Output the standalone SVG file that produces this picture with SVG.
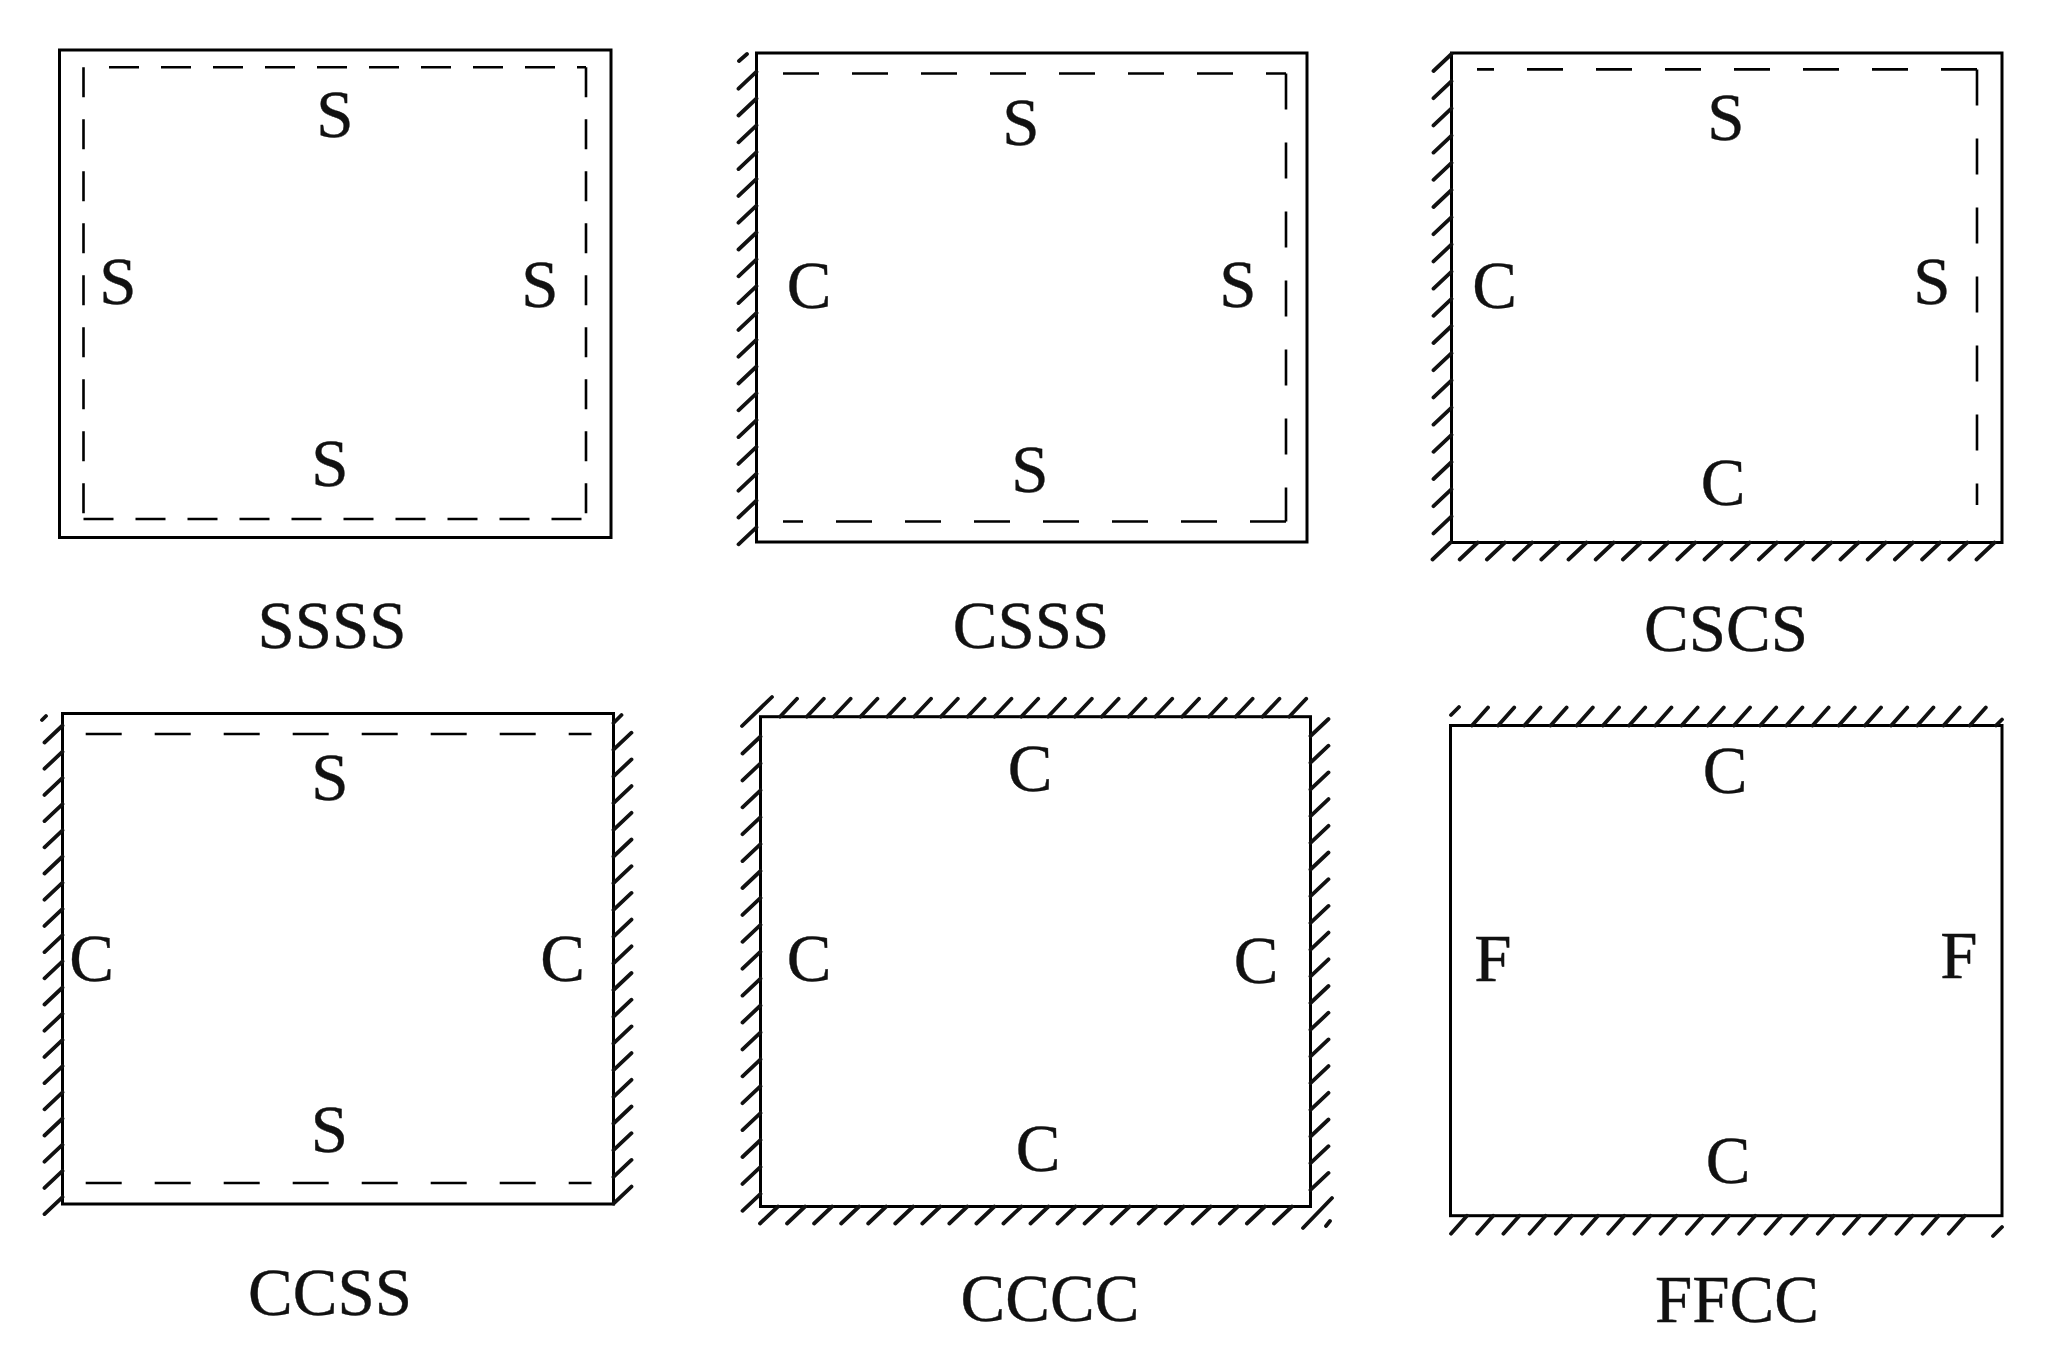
<svg xmlns="http://www.w3.org/2000/svg" width="2050" height="1345" viewBox="0 0 2050 1345">
<style>
.plate{fill:none;stroke:#000;stroke-width:3}
.d1{fill:none;stroke:#000;stroke-width:2.6;stroke-dasharray:30 22}
.d2{fill:none;stroke:#000;stroke-width:2.6;stroke-dasharray:36 33}
.hatch{fill:none;stroke:#111;stroke-width:3.8;stroke-linecap:round}
text{font-family:"Liberation Serif","Times New Roman",serif;font-size:67px;fill:#111;stroke:#111;stroke-width:0.4;text-anchor:middle}
</style>
<rect width="2050" height="1345" fill="#fff"/>

<g id="ssss">
<rect class="plate" x="59.5" y="50" width="551.5" height="487.5"/>
<path class="d1" d="M83.5 67.3V519M109 67.3H586M586 67.3V519M83.5 519H586"/>
<text x="335" y="137">S</text>
<text x="118" y="304">S</text>
<text x="540" y="307">S</text>
<text x="330" y="486">S</text>
<text x="332" y="648">SSSS</text>
</g>

<g id="csss">
<rect class="plate" x="756.5" y="53" width="550.5" height="489"/>
<path class="d2" d="M783 73.5H1286M1286 73.5V521.5M1286 521.5H783"/>
<path class="hatch" d="M747 54l-8 7M756.5 71.7l-18 17m18 9.8l-18 17m18 9.8l-18 17m18 9.8l-18 17m18 9.8l-18 17m18 9.8l-18 17m18 9.8l-18 17m18 9.8l-18 17m18 9.8l-18 17m18 9.8l-18 17m18 9.8l-18 17m18 9.8l-18 17m18 9.8l-18 17m18 9.8l-18 17m18 9.8l-18 17m18 9.8l-18 17m18 9.8l-18 17m18 9.8l-18 17"/>
<text x="1021" y="145">S</text>
<text x="809" y="308">C</text>
<text x="1238" y="307">S</text>
<text x="1030" y="492">S</text>
<text x="1031" y="648">CSSS</text>
</g>

<g id="cscs">
<rect class="plate" x="1451.5" y="53" width="550.5" height="489.5"/>
<path class="d2" d="M1977 69.4H1477M1977 69.4V505"/>
<path class="hatch" d="M1451.5 54l-18 17m18 10.2l-18 17m18 10.2l-18 17m18 10.2l-18 17m18 10.2l-18 17m18 10.2l-18 17m18 10.2l-18 17m18 10.2l-18 17m18 10.2l-18 17m18 10.2l-18 17m18 10.2l-18 17m18 10.2l-18 17m18 10.2l-18 17m18 10.2l-18 17m18 10.2l-18 17m18 10.2l-18 17m18 10.2l-18 17m18 10.2l-18 17"/>
<path class="hatch" d="M1450.5 542.5l-18 17m45.2 -17l-18 17m45.2 -17l-18 17m45.2 -17l-18 17m45.2 -17l-18 17m45.2 -17l-18 17m45.2 -17l-18 17m45.2 -17l-18 17m45.2 -17l-18 17m45.2 -17l-18 17m45.2 -17l-18 17m45.2 -17l-18 17m45.2 -17l-18 17m45.2 -17l-18 17m45.2 -17l-18 17m45.2 -17l-18 17m45.2 -17l-18 17m45.2 -17l-18 17m45.2 -17l-18 17m45.2 -17l-18 17m45.2 -17l-18 17"/>
<text x="1726" y="140">S</text>
<text x="1494.5" y="308">C</text>
<text x="1932" y="304">S</text>
<text x="1723" y="505">C</text>
<text x="1726" y="651">CSCS</text>
</g>

<g id="ccss">
<rect class="plate" x="62.5" y="713.5" width="551" height="490.5"/>
<path class="d2" d="M85.7 734H591.5M85.7 1183H591.5"/>
<path class="hatch" d="M46 716l-4 4M62.5 725.5l-18 17m18 9.2l-18 17m18 9.2l-18 17m18 9.2l-18 17m18 9.2l-18 17m18 9.2l-18 17m18 9.2l-18 17m18 9.2l-18 17m18 9.2l-18 17m18 9.2l-18 17m18 9.2l-18 17m18 9.2l-18 17m18 9.2l-18 17m18 9.2l-18 17m18 9.2l-18 17m18 9.2l-18 17m18 9.2l-18 17m18 9.2l-18 17m18 9.2l-18 17"/>
<path class="hatch" d="M613.5 723l8 -8M613.5 749.7l18 -17m-18 43.7l18 -17m-18 43.7l18 -17m-18 43.7l18 -17m-18 43.7l18 -17m-18 43.7l18 -17m-18 43.7l18 -17m-18 43.7l18 -17m-18 43.7l18 -17m-18 43.7l18 -17m-18 43.7l18 -17m-18 43.7l18 -17m-18 43.7l18 -17m-18 43.7l18 -17m-18 43.7l18 -17m-18 43.7l18 -17m-18 43.7l18 -17m-18 43.7l18 -17"/>
<text x="330" y="800">S</text>
<text x="91.5" y="981">C</text>
<text x="562.5" y="981">C</text>
<text x="329.5" y="1152">S</text>
<text x="330" y="1315">CCSS</text>
</g>

<g id="cccc">
<rect class="plate" x="760.5" y="716.7" width="550" height="489.8"/>
<path class="hatch" d="M742 726L772 697M780 716.7l17 -18m9.8 18l17 -18m9.8 18l17 -18m9.8 18l17 -18m9.8 18l17 -18m9.8 18l17 -18m9.8 18l17 -18m9.8 18l17 -18m9.8 18l17 -18m9.8 18l17 -18m9.8 18l17 -18m9.8 18l17 -18m9.8 18l17 -18m9.8 18l17 -18m9.8 18l17 -18m9.8 18l17 -18m9.8 18l17 -18m9.8 18l17 -18m9.8 18l17 -18m9.8 18l17 -18"/>
<path class="hatch" d="M760.5 736.5l-18 17m18 9.9l-18 17m18 9.9l-18 17m18 9.9l-18 17m18 9.9l-18 17m18 9.9l-18 17m18 9.9l-18 17m18 9.9l-18 17m18 9.9l-18 17m18 9.9l-18 17m18 9.9l-18 17m18 9.9l-18 17m18 9.9l-18 17m18 9.9l-18 17m18 9.9l-18 17m18 9.9l-18 17m18 9.9l-18 17m18 9.9l-18 17"/>
<path class="hatch" d="M1310.5 736l18 -17m-18 43.7l18 -17m-18 43.7l18 -17m-18 43.7l18 -17m-18 43.7l18 -17m-18 43.7l18 -17m-18 43.7l18 -17m-18 43.7l18 -17m-18 43.7l18 -17m-18 43.7l18 -17m-18 43.7l18 -17m-18 43.7l18 -17m-18 43.7l18 -17m-18 43.7l18 -17m-18 43.7l18 -17m-18 43.7l18 -17m-18 43.7l18 -17m-18 43.7l18 -17"/>
<path class="hatch" d="M778 1206.5l-18 17m45.05 -17l-18 17m45.05 -17l-18 17m45.05 -17l-18 17m45.05 -17l-18 17m45.05 -17l-18 17m45.05 -17l-18 17m45.05 -17l-18 17m45.05 -17l-18 17m45.05 -17l-18 17m45.05 -17l-18 17m45.05 -17l-18 17m45.05 -17l-18 17m45.05 -17l-18 17m45.05 -17l-18 17m45.05 -17l-18 17m45.05 -17l-18 17m45.05 -17l-18 17m45.05 -17l-18 17m45.05 -17l-18 17M1303 1228L1332 1198M1330 1221l-4 5"/>
<text x="1030" y="791">C</text>
<text x="809" y="981">C</text>
<text x="1256" y="983">C</text>
<text x="1038" y="1171">C</text>
<text x="1050" y="1321">CCCC</text>
</g>

<g id="ffcc">
<rect class="plate" x="1450.5" y="725.5" width="551.5" height="490.2"/>
<path class="hatch" d="M1451 715l8 -8M1472 725.5l16 -18m10.2 18l16 -18m10.2 18l16 -18m10.2 18l16 -18m10.2 18l16 -18m10.2 18l16 -18m10.2 18l16 -18m10.2 18l16 -18m10.2 18l16 -18m10.2 18l16 -18m10.2 18l16 -18m10.2 18l16 -18m10.2 18l16 -18m10.2 18l16 -18m10.2 18l16 -18m10.2 18l16 -18m10.2 18l16 -18m10.2 18l16 -18m10.2 18l16 -18m10.2 18l16 -18M1996 725.5l6 -6"/>
<path class="hatch" d="M1467 1215.7l-16 18m42.2 -18l-16 18m42.2 -18l-16 18m42.2 -18l-16 18m42.2 -18l-16 18m42.2 -18l-16 18m42.2 -18l-16 18m42.2 -18l-16 18m42.2 -18l-16 18m42.2 -18l-16 18m42.2 -18l-16 18m42.2 -18l-16 18m42.2 -18l-16 18m42.2 -18l-16 18m42.2 -18l-16 18m42.2 -18l-16 18m42.2 -18l-16 18m42.2 -18l-16 18m42.2 -18l-16 18m42.2 -18l-16 18M2002 1227l-9 9"/>
<text x="1725" y="793">C</text>
<text x="1493" y="981">F</text>
<text x="1959" y="978">F</text>
<text x="1728" y="1183">C</text>
<text x="1737" y="1322">FFCC</text>
</g>
</svg>
